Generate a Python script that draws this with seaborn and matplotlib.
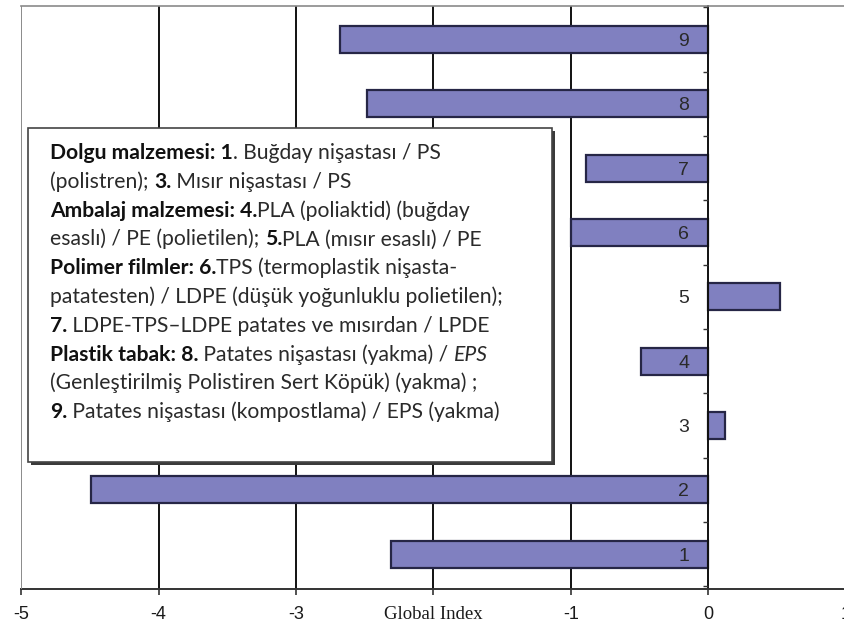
import matplotlib
matplotlib.use("Agg")
import matplotlib.pyplot as plt
from matplotlib.patches import Rectangle
import numpy as np
import pandas as pd
import seaborn as sns

# values
categories = [1, 2, 3, 4, 5, 6, 7, 8, 9]
global_index = [-2.31, -4.49, 0.12, -0.49, 0.52, -1.0, -0.89, -2.48, -2.68]
x_ticks = [-5, -4, -3, -2, -1, 0, 1]
x_tick_labels = ["-5", "-4", "-3", "", "-1", "0", "1"]  # -2 is covered by the axis title

# legend box text: list of (text, weight, style) per line
box_lines = [
    [("Dolgu malzemesi: 1", "bold", "normal"), (". Buğday nişastası / PS", "normal", "normal")],
    [("(polistren); ", "normal", "normal"), ("3.", "bold", "normal"), (" Mısır nişastası / PS", "normal", "normal")],
    [("Ambalaj malzemesi: 4.", "bold", "normal"), ("PLA (poliaktid) (buğday", "normal", "normal")],
    [("esaslı) / PE (polietilen); ", "normal", "normal"), ("5.", "bold", "normal"), ("PLA (mısır esaslı) / PE", "normal", "normal")],
    [("Polimer filmler: 6.", "bold", "normal"), ("TPS (termoplastik nişasta-", "normal", "normal")],
    [("patatesten) / LDPE (düşük yoğunluklu polietilen);", "normal", "normal")],
    [("7.", "bold", "normal"), (" LDPE-TPS–LDPE patates ve mısırdan / LPDE", "normal", "normal")],
    [("Plastik tabak: 8.", "bold", "normal"), (" Patates nişastası (yakma) / ", "normal", "normal"), ("EPS", "normal", "italic")],
    [("(Genleştirilmiş Polistiren Sert Köpük) (yakma) ;", "normal", "normal")],
    [("9.", "bold", "normal"), (" Patates nişastası (kompostlama) / EPS (yakma)", "normal", "normal")],
]

df = pd.DataFrame({"cat": categories, "val": global_index})

sns.set_style("white")
plt.rcParams["font.family"] = ["Liberation Sans", "DejaVu Sans"]

W, H = 845, 636
fig = plt.figure(figsize=(W / 100, H / 100), dpi=100)
ax = fig.add_axes([21 / W, 1 - 589 / H, (846 - 21) / W, (589 - 6) / H])

sns.barplot(data=df, x="val", y="cat", orient="h", native_scale=True,
            color="#8080c0", saturation=1, width=0.42,
            edgecolor="#262646", linewidth=1.6, ax=ax, zorder=2)

ax.set_axisbelow(False)
ax.set_xlim(-5, 1)
ax.set_ylim(0.46, 9.52)

# vertical grid lines behind the bars
for v in x_ticks[1:-1]:
    if v != 0:
        ax.axvline(v, color="#111111", lw=1.4, zorder=0.5)

# frame
for s in ["top", "right"]:
    ax.spines[s].set_color("#8a8a8a")
    ax.spines[s].set_linewidth(1.2)
ax.spines["bottom"].set_color("#333333")
ax.spines["bottom"].set_linewidth(1.4)
ax.spines["left"].set_position(("data", 0))
ax.spines["left"].set_color("#111111")
ax.spines["left"].set_linewidth(1.4)
ax.axvline(-5, color="#8a8a8a", lw=1.4, zorder=3)

ax.set_xticks(x_ticks)
ax.set_xticklabels(x_tick_labels, fontsize=13, color="#1a1a1a")
ax.tick_params(axis="x", direction="out", length=4, width=1.2, color="#333333", pad=8, bottom=True)

ax.set_yticks(categories)
ax.set_yticklabels([str(c) for c in categories], fontsize=14, color="#2a2a2a")
ax.set_yticks(np.arange(0.5, 10, 1), minor=True)
ax.tick_params(axis="y", which="major", length=0, pad=14, left=True)
ax.tick_params(axis="y", which="minor", length=3.5, width=1.0, color="#333333", left=True)

ax.set_ylabel("")
ax.set_xlabel("Global Index", family="Liberation Serif", fontsize=13.5, color="#1a1a1a")
ax.xaxis.set_label_coords(0.5, -0.043)
ax.xaxis.label.set_va("center")

# legend box with shadow
bx0, by0, bx1, by1 = 28, 128, 552, 462
ax.add_patch(Rectangle(((bx0 + 3) / W, 1 - (by1 + 3) / H),
                       (bx1 - bx0) / W, (by1 - by0) / H, transform=fig.transFigure,
                       facecolor="#3a3a3a", edgecolor="none", clip_on=False, zorder=5))
ax.add_patch(Rectangle((bx0 / W, 1 - by1 / H), (bx1 - bx0) / W, (by1 - by0) / H,
                       transform=fig.transFigure, facecolor="white", edgecolor="#444444",
                       lw=1.2, clip_on=False, zorder=6))

renderer = fig.canvas.get_renderer()
fs = 15.2
y0, dy = 159, 28.8
for i, line in enumerate(box_lines):
    x = 50
    for txt, wt, st in line:
        t = fig.text(x / W, 1 - (y0 + i * dy) / H, txt, fontsize=fs, fontweight=wt,
                     fontstyle=st, family=["Lato", "DejaVu Sans"],
                     color="#111111" if wt == "bold" else "#2a2a2a",
                     va="baseline", ha="left", zorder=7)
        x += t.get_window_extent(renderer).width

fig.savefig("out.png", dpi=100)
